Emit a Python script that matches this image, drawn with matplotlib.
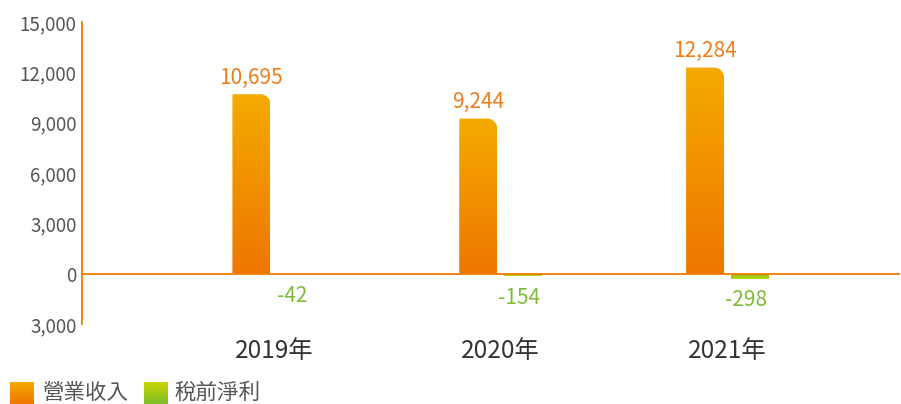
import matplotlib
matplotlib.use("Agg")
import matplotlib.pyplot as plt
import numpy as np
from matplotlib.path import Path
from matplotlib.patches import PathPatch
from matplotlib.colors import LinearSegmentedColormap

plt.rcParams["font.family"] = ["Noto Sans CJK TC", "DejaVu Sans"]
plt.rcParams["font.weight"] = "light"

years = ["2019年", "2020年", "2021年"]
revenue = [10695, 9244, 12284]
pretax = [-42, -154, -298]
series_names = ["營業收入", "稅前淨利"]
yticks = [-3000, 0, 3000, 6000, 9000, 12000, 15000]
ytick_labels = ["3,000", "0", "3,000", "6,000", "9,000", "12,000", "15,000"]

ORANGE_TOP, ORANGE_BOT = "#f5aa00", "#ee7600"
GREEN_TOP, GREEN_BOT = "#c8d600", "#7fbc2a"
AXIS_COLOR = "#ef7d00"

W, H = 901, 404
fig = plt.figure(figsize=(W / 100, H / 100), dpi=100)
ax = fig.add_axes([82 / W, 1 - 324 / H, (900 - 82) / W, (324 - 22) / H])

XMIN, XMAX = -0.846, 2.76
YMIN, YMAX = -3000, 15000
ax.set_xlim(XMIN, XMAX)
ax.set_ylim(YMIN, YMAX)

px_x = (900 - 82) / (XMAX - XMIN)
px_y = (324 - 22) / (YMAX - YMIN)

bar_w = 38 / px_x
off = 22.5 / px_x


def bar_path(x0, x1, y0, y1, r_px):
    """Rectangle with only the top-right corner rounded."""
    rx = r_px / px_x
    ry = r_px / px_y
    if y1 - y0 < ry * 1.5 or r_px == 0:
        verts = [(x0, y0), (x0, y1), (x1, y1), (x1, y0), (x0, y0)]
        codes = [Path.MOVETO, Path.LINETO, Path.LINETO, Path.LINETO, Path.CLOSEPOLY]
        return Path(verts, codes)
    k = 0.5523
    verts = [
        (x0, y0), (x0, y1), (x1 - rx, y1),
        (x1 - rx + k * rx, y1), (x1, y1 - ry + k * ry), (x1, y1 - ry),
        (x1, y0), (x0, y0),
    ]
    codes = [Path.MOVETO, Path.LINETO, Path.LINETO,
             Path.CURVE4, Path.CURVE4, Path.CURVE4,
             Path.LINETO, Path.CLOSEPOLY]
    return Path(verts, codes)


def gradient_bar(x0, x1, y0, y1, top, bot, r_px):
    ylo, yhi = min(y0, y1), max(y0, y1)
    path = bar_path(x0, x1, ylo, yhi, r_px if y1 > y0 else 0)
    patch = PathPatch(path, facecolor="none", edgecolor="none")
    ax.add_patch(patch)
    cmap = LinearSegmentedColormap.from_list("g", [bot, top])
    grad = np.linspace(0, 1, 256).reshape(-1, 1)
    if y1 < y0:
        grad = grad[::-1]
    im = ax.imshow(grad, cmap=cmap, origin="lower", aspect="auto",
                   extent=[x0, x1, ylo, yhi], zorder=2, interpolation="bicubic")
    im.set_clip_path(patch)


for i, (rv, pt) in enumerate(zip(revenue, pretax)):
    cx = i - off
    gradient_bar(cx - bar_w / 2, cx + bar_w / 2, 0, rv, ORANGE_TOP, ORANGE_BOT, 10)
    ax.annotate(f"{rv:,}", (cx, rv), xytext=(0, 4), textcoords="offset points",
                ha="center", va="bottom", fontsize=15, color="#ef7d1a")
    gx = i + off
    gradient_bar(gx - bar_w / 2, gx + bar_w / 2, 0, min(pt, -40), GREEN_TOP, GREEN_BOT, 0)
    ax.annotate(f"{pt:,}", (gx, pt), xytext=(-3, -7.5), textcoords="offset points",
                ha="center", va="top", fontsize=15, color="#7dbb3a")

ax.set_xlim(XMIN, XMAX)
ax.set_ylim(YMIN, YMAX)

ax.axhline(0, color=AXIS_COLOR, lw=1.3, zorder=3)
for s in ["top", "right", "bottom"]:
    ax.spines[s].set_visible(False)
ax.spines["left"].set_color(AXIS_COLOR)
ax.spines["left"].set_linewidth(1.3)

ax.set_yticks(yticks)
ax.set_yticklabels(ytick_labels)
ax.set_xticks(range(len(years)))
ax.set_xticklabels(years)
ax.tick_params(axis="y", length=0, pad=4, labelsize=13.5, labelcolor="#555555")
ax.tick_params(axis="x", length=0, pad=10, labelsize=17.5, labelcolor="#333333")

# legend
legend_items = [(10, ORANGE_TOP, ORANGE_BOT, series_names[0], 42),
                (144, GREEN_TOP, GREEN_BOT, series_names[1], 175)]
for sx, top, bot, name, tx in legend_items:
    lax = fig.add_axes([sx / W, 0, 24 / W, 22 / H])
    cmap = LinearSegmentedColormap.from_list("l", [bot, top])
    lax.imshow(np.linspace(0, 1, 64).reshape(-1, 1), cmap=cmap, origin="lower",
               aspect="auto", extent=[0, 1, 0, 1])
    lax.set_axis_off()
    fig.text(tx / W, 1 - 393 / H, name, fontsize=15.5, color="#555555",
             ha="left", va="center")

fig.savefig("out.png", dpi=100)
